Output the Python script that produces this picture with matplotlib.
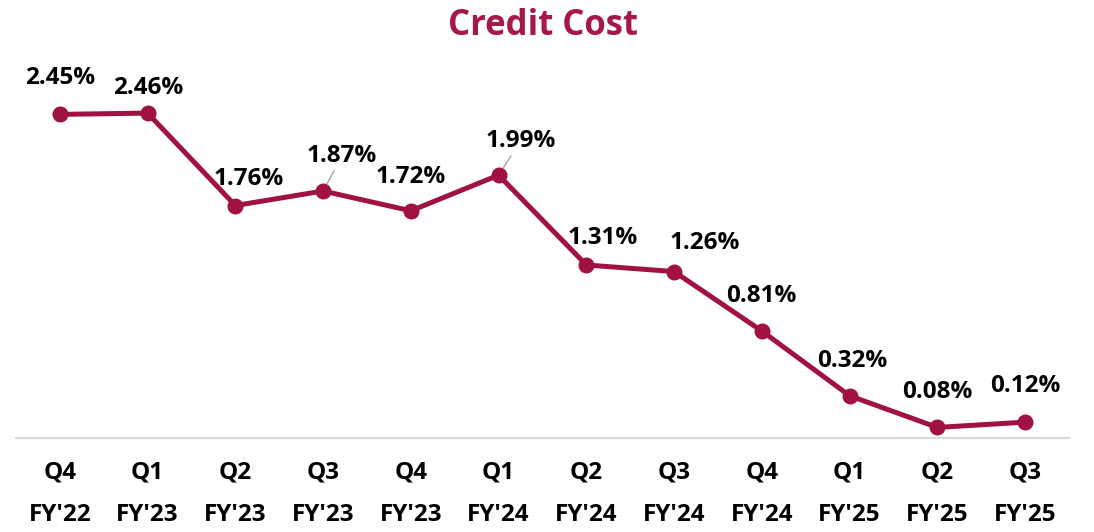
import matplotlib.pyplot as plt

# Data
quarters = ["Q4\nFY'22", "Q1\nFY'23", "Q2\nFY'23", "Q3\nFY'23", "Q4\nFY'23", "Q1\nFY'24",
            "Q2\nFY'24", "Q3\nFY'24", "Q4\nFY'24", "Q1\nFY'25", "Q2\nFY'25", "Q3\nFY'25"]
credit_cost = [2.45, 2.46, 1.76, 1.87, 1.72, 1.99, 1.31, 1.26, 0.81, 0.32, 0.08, 0.12]

# label offsets in pixels (dx, dy) and whether a leader line is drawn
label_offsets = [(0, 36), (1, 25), (13, 27), (19, 35), (0, 34), (22, 34),
                 (16, 27), (31, 29), (-1, 35), (3, 35), (0, 35), (0, 36)]
leaders = [False, False, False, True, False, True, False, False, False, False, False, False]

plt.rcParams['font.family'] = ['Open Sans', 'DejaVu Sans']
maroon = "#A0123F"

fig = plt.figure(figsize=(10.94, 5.32), dpi=100)
ax = fig.add_axes([0.0146, 0.1767, 0.9625, 0.72])

x = list(range(len(quarters)))
ax.plot(x, credit_cost, color=maroon, lw=3.6, marker="o", ms=10.5, solid_capstyle="round")

for xi, v, (dx, dy), lead in zip(x, credit_cost, label_offsets, leaders):
    arrow = dict(arrowstyle="-", color="#A6A6A6", lw=1, shrinkA=0, shrinkB=6) if lead else None
    ax.annotate(f"{v:.2f}%", (xi, v), xytext=(dx, dy), textcoords="offset pixels",
                ha="center", va="center", fontsize=17.5, fontweight="bold",
                color="black", arrowprops=arrow)

ax.set_xlim(-0.5, len(quarters) - 0.5)
ax.set_ylim(0, 2.9)
ax.set_xticks(x)
ax.set_xticklabels(quarters, fontsize=17.5, fontweight="bold", linespacing=2.05)
ax.tick_params(axis="x", length=0, pad=16)
ax.set_yticks([])
for side in ["top", "left", "right"]:
    ax.spines[side].set_visible(False)
ax.spines["bottom"].set_color("#D9D9D9")
ax.spines["bottom"].set_linewidth(1.5)

fig.text(0.496, 0.952, "Credit Cost", ha="center", va="center", fontsize=25,
         fontweight="bold", color="#A6174A")

fig.savefig("out.png", dpi=100)
